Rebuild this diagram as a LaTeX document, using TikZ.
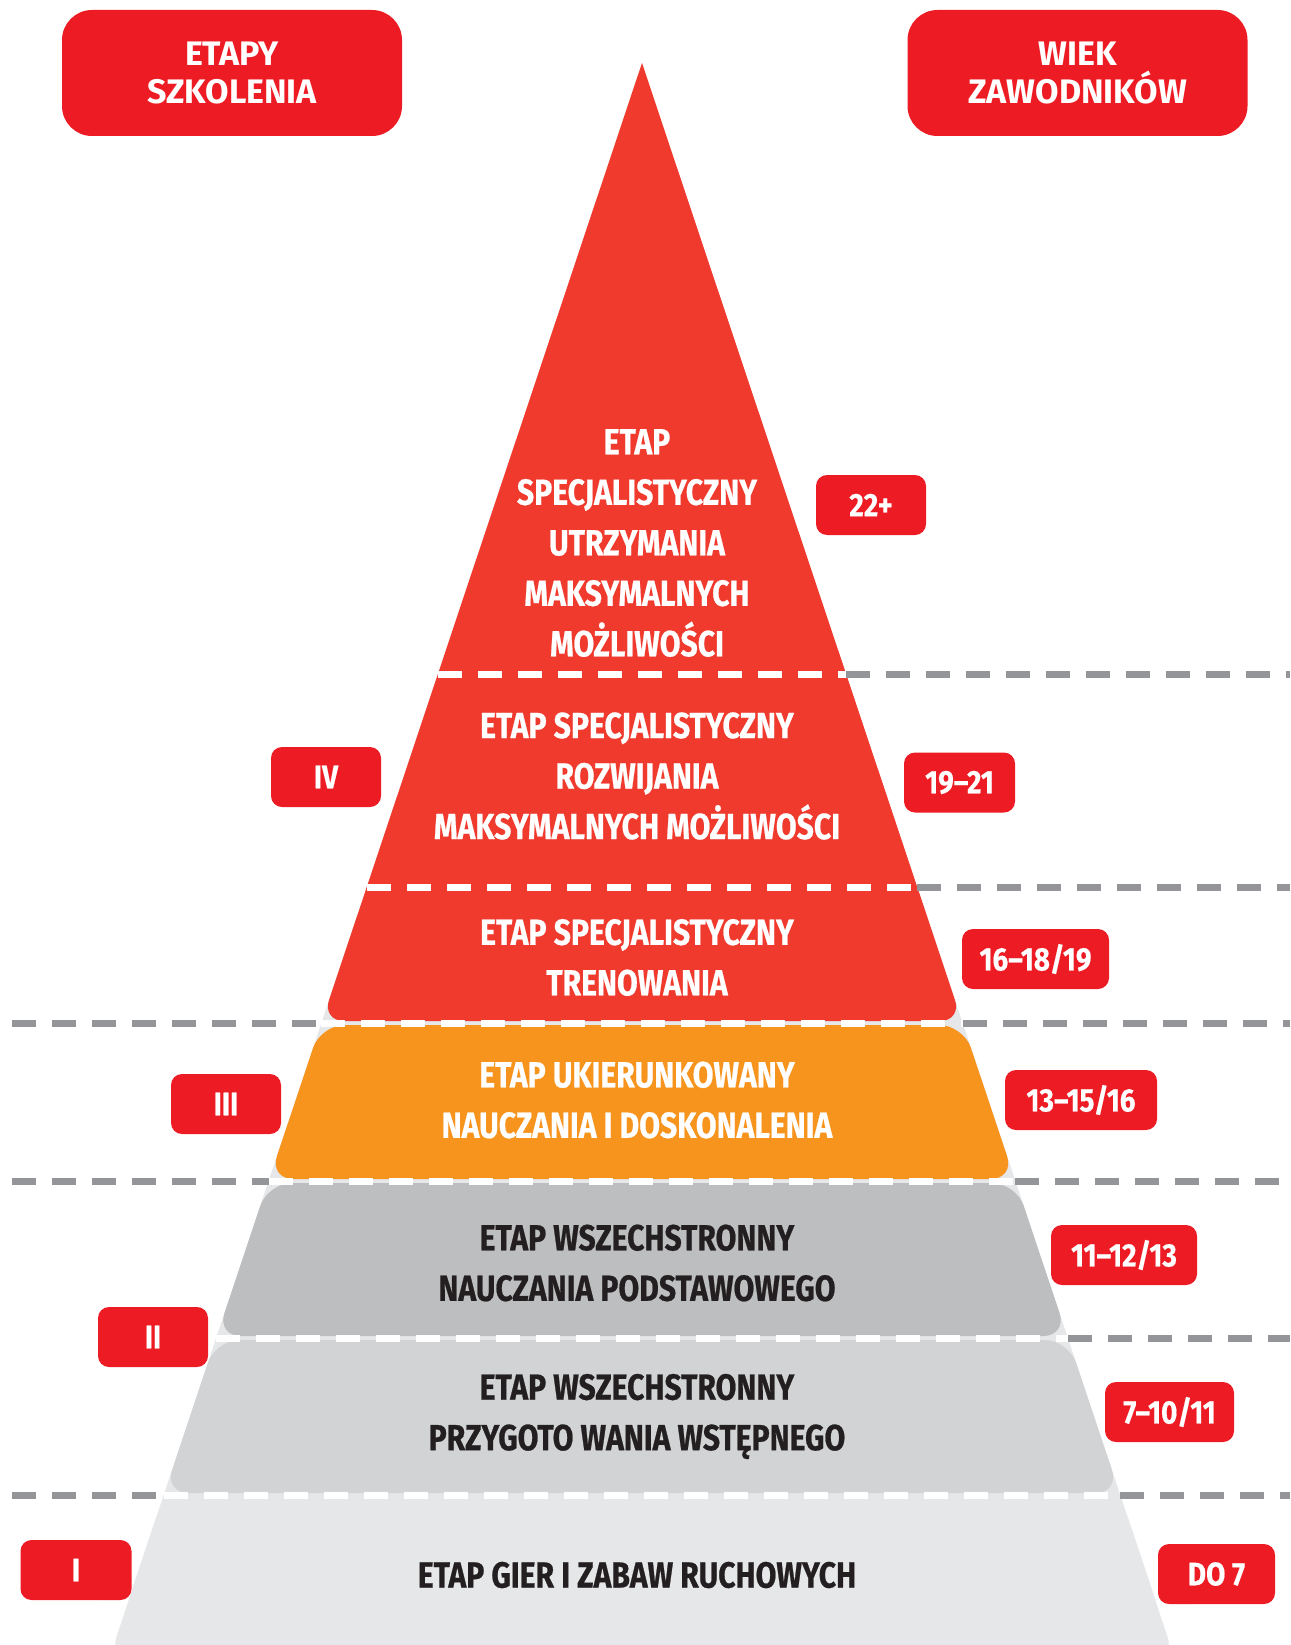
\documentclass[tikz,border=0pt]{standalone}
\usepackage{fontspec}
\setmainfont{Fira Sans}
\newfontfamily\condfont[FakeStretch=0.83, FakeBold=0.6]{Fira Sans}
\newfontfamily\agecondfont[FakeStretch=0.86, FakeBold=0.4]{Fira Sans}

\definecolor{bandred}{HTML}{EF3A2D}
\definecolor{boxred}{HTML}{ED1C24}
\definecolor{bandorange}{HTML}{F7941E}
\definecolor{banddark}{HTML}{BCBEC0}
\definecolor{bandmid}{HTML}{D1D3D4}
\definecolor{bandlight}{HTML}{E6E7E8}
\definecolor{dashgrey}{HTML}{939598}
\definecolor{textdark}{HTML}{231F20}

\newcommand{\headfont}{\bfseries\fontsize{34}{38}\selectfont}
\newcommand{\stagefont}{\condfont\bfseries\fontsize{36.3}{50.5}\selectfont}
\newcommand{\agefont}{\agecondfont\bfseries\fontsize{32.5}{34}\selectfont}

\tikzstyle{head_box} = [rectangle, rounded corners=30pt, fill=boxred, text=white,
minimum width=340pt, minimum height=126pt, align=center, font=\headfont]
\tikzstyle{age_box} = [rectangle, rounded corners=11pt, fill=boxred, text=white,
minimum height=60pt, font=\agefont]
\tikzstyle{stage_light} = [align=center, text=white, font=\stagefont]
\tikzstyle{stage_dark} = [stage_light, text=textdark]
\tikzstyle{dash_white} = [draw=white, line width=7pt, dash pattern=on 24pt off 16pt]
\tikzstyle{dash_grey} = [dash_white, draw=dashgrey]

\begin{document}
\begin{tikzpicture}[x=1pt, y=-1pt]
	\useasboundingbox (0,0) rectangle (1290,1645);

	%Pyramid
	\begin{scope}
	\clip (0,0) rectangle (1290,1645);
	\fill[bandlight] (642,63) -- (113.6,1645) -- (1170.4,1645) -- cycle;
	\fill[bandred] (642,63) -- (480,548) [rounded corners=22pt] -- (322,1021)
		-- (962,1021) -- (804,548) [sharp corners] -- cycle;
	\fill[bandorange, rounded corners=24pt] (642,1025) -- (320.7,1025) -- (269.3,1179)
		-- (1014.7,1179) -- (963.3,1025) -- cycle;
	\fill[banddark, rounded corners=24pt] (642,1183) -- (267.9,1183) -- (216.8,1336)
		-- (1067.2,1336) -- (1016.1,1183) -- cycle;
	\fill[bandmid, rounded corners=24pt] (642,1340) -- (215.5,1340) -- (164.4,1493)
		-- (1119.6,1493) -- (1068.5,1340) -- cycle;
	\fill[white] (100,1600) rectangle (1190,1645);
	\fill[bandlight, rounded corners=24pt] (642,1497) -- (163,1497) -- (108.8,1660)
		-- (1175.2,1660) -- (1121,1497) -- cycle;
	\end{scope}

	%Lines
	\draw[dash_white] (437.9,674) -- (846.1,674);
	\draw[dash_grey] (846.1,674) -- (1290,674);
	\draw[dash_white] (366.8,887) -- (917.2,887);
	\draw[dash_grey] (917.2,887) -- (1290,887);
	\draw[dash_grey] (12,1023) -- (321.4,1023);
	\draw[dash_white] (321.4,1023) -- (962.6,1023);
	\draw[dash_grey] (962.6,1023) -- (1290,1023);
	\draw[dash_grey] (12,1181) -- (268.6,1181);
	\draw[dash_white] (268.6,1181) -- (1015.4,1181);
	\draw[dash_grey] (1015.4,1181) -- (1290,1181);
	\draw[dash_white] (216.1,1338) -- (1067.9,1338);
	\draw[dash_grey] (1067.9,1338) -- (1290,1338);
	\draw[dash_grey] (12,1495) -- (163.7,1495);
	\draw[dash_white] (163.7,1495) -- (1120.3,1495);
	\draw[dash_grey] (1120.3,1495) -- (1290,1495);

	%Nodes
	\node [head_box] (stages) at (232,73) {ETAPY\\SZKOLENIA};
	\node [head_box] (ages) at (1077.5,73) {WIEK\\ZAWODNIKÓW};

	\node [stage_light] (s_maint) at (637,543) {ETAP\\SPECJALISTYCZNY\\UTRZYMANIA\\MAKSYMALNYCH\\MOŻLIWOŚCI};
	\node [stage_light] (s_devel) at (637,776) {ETAP SPECJALISTYCZNY\\ROZWIJANIA\\MAKSYMALNYCH MOŻLIWOŚCI};
	\node [stage_light] (s_train) at (637,957.5) {ETAP SPECJALISTYCZNY\\TRENOWANIA};
	\node [stage_light] (s_direct) at (637,1100) {ETAP UKIERUNKOWANY\\NAUCZANIA I DOSKONALENIA};
	\node [stage_dark] (s_basic) at (637,1263) {ETAP WSZECHSTRONNY\\NAUCZANIA PODSTAWOWEGO};
	\node [stage_dark] (s_prep) at (637,1416.5) {ETAP WSZECHSTRONNY\\PRZYGOTO WANIA WSTĘPNEGO};
	\node [stage_dark] (s_games) at (637,1575) {ETAP GIER I ZABAW RUCHOWYCH};

	\node [age_box, minimum width=110pt] (iv) at (326,777) {IV};
	\node [age_box, minimum width=110pt] (iii) at (226,1104) {III};
	\node [age_box, minimum width=110pt] (ii) at (153,1337) {II};
	\node [age_box, minimum width=111pt] (i) at (76,1570) {I};

	\node [age_box, minimum width=110pt] (a_22) at (871,505) {22+};
	\node [age_box, minimum width=111pt] (a_19) at (959.5,782.5) {19–21};
	\node [age_box, minimum width=147pt] (a_16) at (1035.5,959) {16–18/19};
	\node [age_box, minimum width=152pt] (a_13) at (1081,1100) {13–15/16};
	\node [age_box, minimum width=146pt] (a_11) at (1124,1255) {11–12/13};
	\node [age_box, minimum width=129pt] (a_7) at (1169.5,1412) {7–10/11};
	\node [age_box, minimum width=117pt] (a_0) at (1216.5,1574) {DO 7};

\end{tikzpicture}
\end{document}
